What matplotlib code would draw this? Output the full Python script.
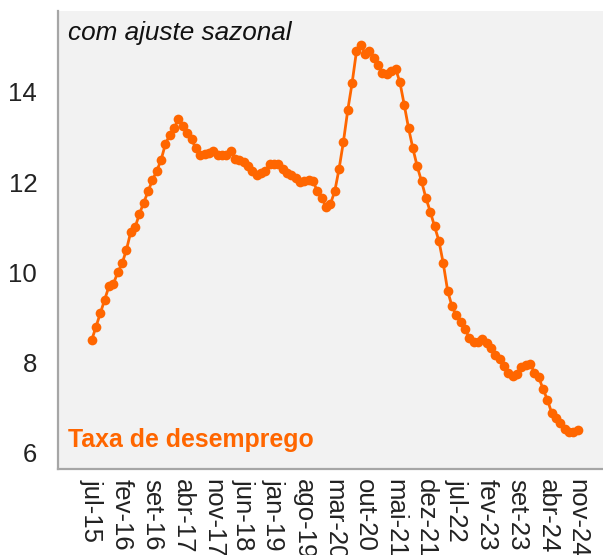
import matplotlib
matplotlib.use("Agg")
import matplotlib.pyplot as plt
import numpy as np

tick_labels = ["jul-15", "fev-16", "set-16", "abr-17", "nov-17", "jun-18", "jan-19",
               "ago-19", "mar-20", "out-20", "mai-21", "dez-21", "jul-22", "fev-23",
               "set-23", "abr-24", "nov-24"]

# monthly seasonally adjusted unemployment rate, jul-15 .. nov-24
taxa = [8.5, 8.8, 9.1, 9.4, 9.7, 9.75, 10.0, 10.2, 10.5, 10.9,
        11.0, 11.3, 11.55, 11.8, 12.05, 12.25, 12.5, 12.85, 13.05, 13.2,
        13.4, 13.25, 13.1, 12.95, 12.75, 12.6, 12.62, 12.65, 12.7, 12.6,
        12.6, 12.6, 12.7, 12.52, 12.5, 12.44, 12.36, 12.25, 12.15, 12.2,
        12.25, 12.4, 12.41, 12.41, 12.3, 12.2, 12.15, 12.1, 12.0, 12.02,
        12.04, 12.02, 11.8, 11.65, 11.45, 11.52, 11.8, 12.3, 12.9, 13.6,
        14.2, 14.9, 15.05, 14.85, 14.9, 14.75, 14.6, 14.42, 14.4, 14.46,
        14.52, 14.22, 13.72, 13.2, 12.75, 12.35, 12.02, 11.65, 11.35, 11.02,
        10.7, 10.2, 9.6, 9.25, 9.05, 8.9, 8.75, 8.55, 8.46, 8.47,
        8.53, 8.44, 8.33, 8.18, 8.08, 7.92, 7.77, 7.7, 7.76, 7.9,
        7.96, 7.98, 7.78, 7.68, 7.41, 7.18, 6.88, 6.77, 6.66, 6.53,
        6.46, 6.46, 6.5]

plt.rcParams['font.family'] = ['Liberation Sans', 'DejaVu Sans']

fig = plt.figure(figsize=(6.03, 5.55), dpi=100)
ax = fig.add_axes([58/603, 1 - 469/555, 1 - 58/603, (469 - 11)/555])
ax.set_facecolor('#f2f2f2')

x = np.arange(len(taxa))
orange = '#ff6600'
ax.plot(x, taxa, color=orange, lw=2.0, marker='o', markersize=7,
        markeredgewidth=0, zorder=3)

ax.set_xlim(-7.76, 117.8)
ax.set_ylim(5.645, 15.795)
ax.set_yticks([6, 8, 10, 12, 14])
ax.set_xticks(np.arange(0, len(taxa), 7))
ax.set_xticklabels(tick_labels, rotation=-90, va='top', ha='center')

ax.tick_params(axis='both', length=0, labelsize=18.5, colors='#222222')
ax.tick_params(axis='y', pad=15)
ax.tick_params(axis='x', pad=7)

for s in ['top', 'right']:
    ax.spines[s].set_visible(False)
for s in ['left', 'bottom']:
    ax.spines[s].set_color('#a6a6a6')
    ax.spines[s].set_linewidth(1.6)

fig.text(68/603, 1 - 33/555, 'com ajuste sazonal', fontsize=18.8, style='italic',
         color='#111111', ha='left', va='center')
fig.text(68/603, 1 - 440/555, 'Taxa de desemprego', fontsize=17.9, fontweight='bold',
         color=orange, ha='left', va='center')

fig.savefig('out.png', dpi=100)
